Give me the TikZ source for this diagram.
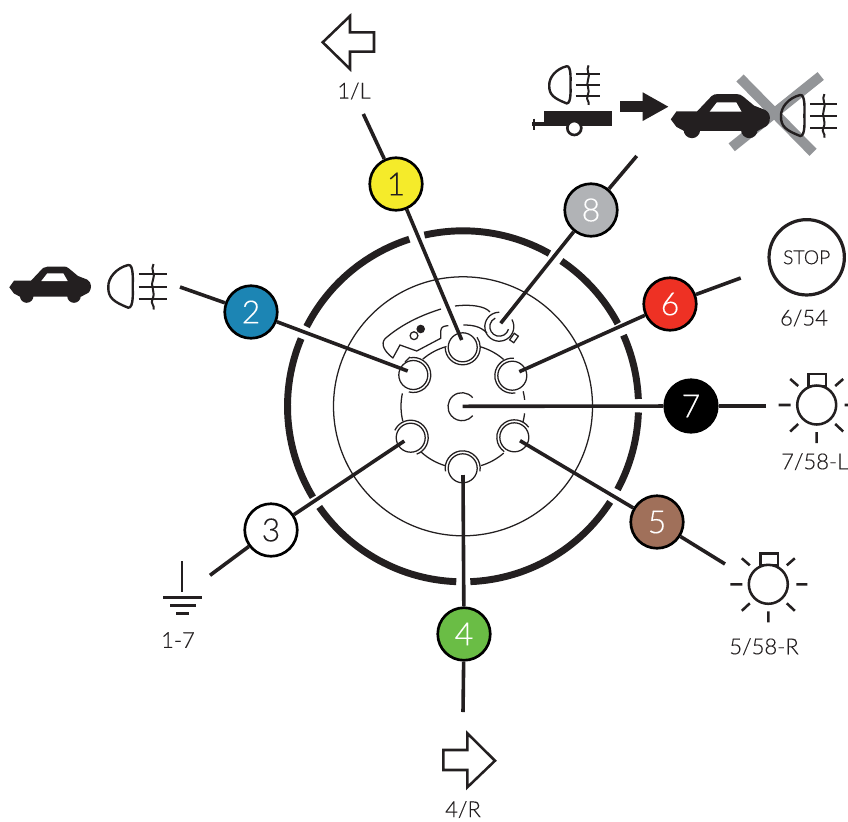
\documentclass[tikz,border=0pt]{standalone}
\usepackage{fontspec}
\setmainfont[FakeBold=0.25]{Lato Light}
\definecolor{ink}{HTML}{231F20}
\definecolor{cy}{HTML}{F5EB2A}
\definecolor{cb}{HTML}{1C85B4}
\definecolor{cg}{HTML}{6ABD45}
\definecolor{cbr}{HTML}{A0705A}
\definecolor{cr}{HTML}{EE3124}
\definecolor{cgy}{HTML}{B1B3B6}
\definecolor{xgy}{HTML}{939598}
\tikzset{
  x=0.75pt,y=-0.75pt,
  pin/.style={circle,draw=black,line width=2pt,minimum size=39.4pt,inner sep=0pt,font=\fontsize{24}{24}\selectfont},
  wire/.style={draw=ink,line width=2.7pt,line cap=butt},
  ring/.style={draw=ink,line width=0.95pt},
  sym/.style={draw=ink,line width=1.9pt},
  lab/.style={text=ink,font=\fontsize{16.5}{18}\selectfont,inner sep=0pt},
}
\newcommand{\fogsym}[3]{%
  \begin{scope}[shift={(#1,#2)},scale=#3]
    \draw[sym,line width=1.8pt] (128.3,25) .. controls (116,28) and (108,38) .. (108.3,47) .. controls (108,58) and (114,62) .. (128.3,67.7) .. controls (134,68) and (132.7,50) .. (132.7,47) .. controls (132.7,42) and (134,24) .. (128.3,25) -- cycle;
    \draw[sym,line width=1.6pt] (138.5,34.3) -- (166.5,34.3) (138.5,46.7) -- (166.5,46.7) (138.5,59.3) -- (166.5,59.3);
    \draw[sym,line width=1.5pt] (153.5,24) .. controls (150,30) and (156,34) .. (153,40) .. controls (150,47) and (156,52) .. (152.5,59) .. controls (150,64) and (155,65) .. (153.5,69.5);
  \end{scope}}
\newcommand{\carsym}[3]{%
  \begin{scope}[shift={(#1,#2)},scale=#3]
    \fill[ink] (9.3,47.3) -- (14,40.7) -- (31,40.7) -- (43,28) .. controls (45,26.5) and (46,26.5) .. (48,26.5) -- (64,26.5) .. controls (66,26.5) and (67,27) .. (69,28.5) -- (78,36) -- (87,39.5) .. controls (90,41) and (91,44) .. (91,46) .. controls (91,50) and (89,53) .. (87,53.5) -- (81,56.7) -- (20,56.7) -- (14,53.5) -- cycle;
    \fill[ink] (26.7,56) circle[radius=6.8] (74,56) circle[radius=6.8];
    \fill[white] (41.3,41) -- (47.3,33.3) -- (63.3,33.3) -- (67.7,41) -- cycle;
  \end{scope}}
\newcommand{\lampsym}[2]{%
  \begin{scope}[shift={(#1,#2)}]
    \draw[sym] (-8,-19) rectangle (9.5,-31);
    \draw[sym,fill=white] (0,0) circle[radius=19.5];
    \draw[sym] (-38,0) -- (-26,0) (28,0) -- (39,0) (0,27) -- (0,38)
      (-26.5,-26) -- (-18.5,-19) (26.5,-26) -- (18.5,-19)
      (-26.5,26.5) -- (-18.5,19) (26.5,26.5) -- (18.5,19);
  \end{scope}}
\begin{document}
\begin{tikzpicture}
\useasboundingbox (0,0) rectangle (848,821);
\clip (0,0) rectangle (848,821);
% housing (y axis points down: an angle a on the page is written -a)
\coordinate (hub) at (463,406.3);
\begin{scope}[shift={(hub)}]
  \foreach \a/\b in {102.7/60.5,55.9/28.1,23.9/2.4,-2/-28.3,-33/-87.6,-92.2/-145,-148.8/-202.7,-207/-252.2}{
    \draw[draw=ink,line width=5.2pt] ({-\a}:175.5) arc[start angle={-\a},end angle={-\b},radius=175.5];
  }
  \draw[ring] (0,0) circle[radius=129.5];
  \foreach \a/\b in {168/194,227.7/253,-73/-49,6/14,-14.5/-6.5,49/74,105.4/130.5}{
    \draw[ring] ({-\a}:62) arc[start angle={-\a},end angle={-\b},radius=62];
  }
\end{scope}
% pins
\coordinate (p1) at (462.7,347.3);
\coordinate (p2) at (413.3,375);
\coordinate (p3) at (410.7,437.7);
\coordinate (p4) at (462.7,468.3);
\coordinate (p5) at (514.3,437.3);
\coordinate (p6) at (512.3,375.7);
\coordinate (p8) at (499.3,326.7);
\coordinate (pc) at (462,406.7);
\foreach \p/\a/\b in {p1/180/395,p2/100/-105,p3/155/-70,p4/190/-10,p5/35/235,p6/85/280}{
  \draw[ring,fill=white] (\p) circle[radius=14.5];
  \draw[ring] ([shift={({-\a}:17.5)}]\p) arc[start angle={-\a},end angle={-\b},radius=17.5];
}
\draw[ring] ([shift={(-40:14)}]pc) arc[start angle=-40,end angle=-320,radius=14];
% pin 8 and key outline
\draw[ring] ([shift={(-30:14.5)}]p8) arc[start angle=-30,end angle=270,radius=14.5];
\draw[ring] ([shift={(15:9.5)}]p8) arc[start angle=15,end angle=245,radius=9.5];
\draw[ring,fill=white,rotate around={-35:(514,338)}] (511.5,334) rectangle (516.5,342);
\draw[ring] (455,306) .. controls (470,304) and (485,306) .. (490,312);
\draw[ring] (441,309) .. controls (425,314) and (405,322) .. (387,337) .. controls (381,341) and (381,349) .. (393,358);
\draw[ring] (392.7,358.3) -- (400,345) -- (416.7,351) -- (440.7,338.3) -- (440.7,331) .. controls (441,326) and (445,326) .. (448.3,325.7);
\draw[ring] (463.3,325) .. controls (472,325) and (480,326) .. (487,333);
\draw[ring] (405,362) -- (410,357);
\fill[ink] (420.7,329) circle[radius=4.3];
\draw[ring,fill=white] (414,335.7) circle[radius=3.9];
% connector ends
\coordinate (e1) at (461.7,340);
\coordinate (e2) at (407.7,371);
\coordinate (e3) at (404.3,441);
\coordinate (e4) at (463,475);
\coordinate (e5) at (520,440.7);
\coordinate (e6) at (519.3,371.7);
\coordinate (e7) at (462.7,406.3);
\coordinate (e8) at (500.7,323.3);
\coordinate (f1) at (363.3,114);
\coordinate (f2) at (180,287);
\coordinate (f3) at (210,575.3);
\coordinate (f4) at (463,712);
\coordinate (f5) at (725,564);
\coordinate (f6) at (740.7,278);
\coordinate (f7) at (766,406);
\coordinate (f8) at (636.7,156);
% numbered nodes
\node[pin,fill=cy,text=ink] (n1) at (396,184) {1};
\node[pin,fill=cb,text=white] (n2) at (251,312) {2};
\node[pin,fill=white,text=ink] (n3) at (271,530) {3};
\node[pin,fill=cg,text=white] (n4) at (464,634) {4};
\node[pin,fill=cbr,text=white] (n5) at (657,522) {5};
\node[pin,fill=cr,text=white] (n6) at (670,304) {6};
\node[pin,fill=black,text=white] (n7) at (691,406) {7};
\node[pin,fill=cgy,text=white] (n8) at (591,210) {8};
\foreach \n in {1,...,8}{
  \draw[wire] (f\n) -- (n\n);
  \draw[wire] (n\n) -- (e\n);
}
% turn arrows
\draw[sym,line join=miter] (322.7,42.3) -- (350,16) -- (350,32.3) -- (374,32.3) -- (374,51.7) -- (350,51.7) -- (350,69) -- cycle;
\draw[sym,line join=miter] (443.3,750) -- (467.3,750) -- (467.3,733.3) -- (495,760.7) -- (467.3,787.3) -- (467.3,770) -- (443.3,770) -- cycle;
\node[lab] (l1) at (354,91) {1/L};
\node[lab] (l4) at (463,809.5) {4/R};
% ground
\draw[sym] (182,561) -- (182,591.7);
\draw[sym] (163.3,597.7) -- (202.3,597.7) (170,605.7) -- (196,605.7) (176,613.3) -- (189.3,613.3);
\node[lab] (l3) at (178,640) {1-7};
% lamps
\lampsym{816.7}{405}
\node[lab] (l7) at (814.7,461.7) {7/58-L};
\lampsym{768.3}{584.3}
\node[lab] (l5) at (764,646.7) {5/58-R};
% stop
\node[circle,draw=ink,line width=2.4pt,minimum size=56.5pt,inner sep=0pt,text=ink,font=\fontsize{14.5}{16}\selectfont] (stop) at (806.7,257.3) {STOP};
\node[lab] (l6) at (804,318) {6/54};
% fog lamp, car
\carsym{0}{240}{1}
\fogsym{0}{240}{1}
% trailer group
\fogsym{455}{44.5}{0.87}
\fill[ink] (544,110.7) rectangle (611.7,126);
\draw[ink,line width=2.3pt] (532,124) -- (545,124);
\draw[ink,line width=1.8pt] (534,118.5) -- (534,129.5);
\draw[ink,line width=2pt,fill=white] (574.3,128) circle[radius=7];
\fill[ink] (620,101) rectangle (642.7,111.7);
\fill[ink] (642.7,92.3) -- (668.3,106.7) -- (642.7,121) -- cycle;
% crossed lamp
\draw[xgy,line width=7.5pt] (740,78) -- (813,152.3);
\draw[xgy,line width=7.5pt] (820.7,76) -- (731.7,147.3);
\carsym{659.5}{62}{1.213}
\fogsym{677}{71}{0.96}
\end{tikzpicture}
\end{document}
